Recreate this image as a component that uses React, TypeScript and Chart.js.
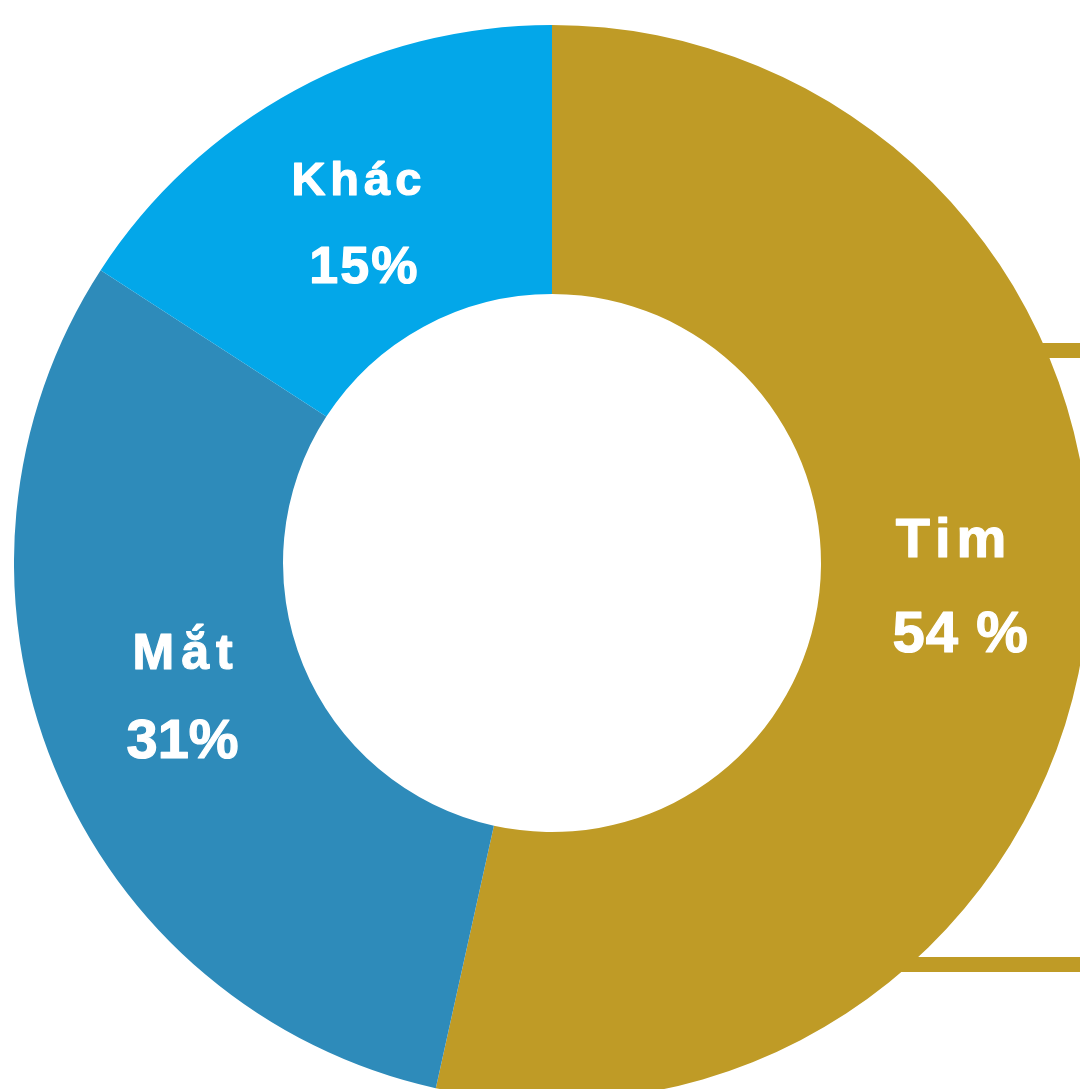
import React, { useEffect, useRef } from "react";
import { Chart, registerables } from "chart.js";

Chart.register(...registerables);

const categories = ["Tim", "Mắt", "Khác"];
const values = [54, 31, 16];
const percentLabels = ["54 %", "31%", "15%"];
const colors = ["#BF9B26", "#2E8BBA", "#03A7E9"];

// label styling (size px, letter spacing px) and offsets from the arc's centroid
const nameSizes = [56, 50, 47];
const nameSpacing = [6, 7, 5];
const pctSizes = [58, 56, 52];
const pctSpacing = [1, 0, 2];
const nameOffsets = [[-2, -50], [4, -47], [-3, -13]];
const pctOffsets = [[7, 45], [4, 42], [4, 75]];

const labelPlugin = {
  id: "sliceLabels",
  beforeDatasetsDraw(chart: any) {
    const meta = chart.getDatasetMeta(0);
    const arc = meta.data[0];
    if (!arc) return;
    const { x, y, outerRadius } = arc.getProps(["x", "y", "outerRadius"], true);
    const ctx = chart.ctx;
    ctx.save();
    ctx.fillStyle = colors[0];
    const bars = [[-220, -205], [394, 409]];
    bars.forEach(([a, b]) => {
      const dy = (a + b) / 2;
      const startX = x + Math.sqrt(Math.max(0, outerRadius * outerRadius - dy * dy)) - 20;
      ctx.fillRect(startX, y + a, chart.width - startX + 20, b - a);
    });
    ctx.restore();
  },
  afterDatasetsDraw(chart: any) {
    const meta = chart.getDatasetMeta(0);
    const ctx = chart.ctx;
    meta.data.forEach((el: any, i: number) => {
      const p = el.tooltipPosition();
      ctx.save();
      ctx.fillStyle = "#ffffff";
      ctx.strokeStyle = "#ffffff";
      ctx.lineWidth = 1.2;
      ctx.lineJoin = "round";
      ctx.textAlign = "center";
      ctx.textBaseline = "alphabetic";
      ctx.font = `bold ${nameSizes[i]}px "Liberation Sans", Arial, sans-serif`;
      (ctx as any).letterSpacing = `${nameSpacing[i]}px`;
      const nx = p.x + nameOffsets[i][0] + nameSpacing[i] / 2;
      const ny = p.y + nameOffsets[i][1];
      ctx.fillText(categories[i], nx, ny);
      ctx.strokeText(categories[i], nx, ny);
      ctx.font = `bold ${pctSizes[i]}px "Liberation Sans", Arial, sans-serif`;
      (ctx as any).letterSpacing = `${pctSpacing[i]}px`;
      const px = p.x + pctOffsets[i][0] + pctSpacing[i] / 2;
      const py = p.y + pctOffsets[i][1];
      ctx.fillText(percentLabels[i], px, py);
      ctx.strokeText(percentLabels[i], px, py);
      ctx.restore();
    });
  },
};

export default function App() {
  const ref = useRef<HTMLCanvasElement | null>(null);
  useEffect(() => {
    if (!ref.current) return;
    const chart = new Chart(ref.current, {
      type: "doughnut",
      data: {
        labels: categories,
        datasets: [
          {
            data: values,
            backgroundColor: colors,
            borderWidth: 0,
          },
        ],
      },
      options: {
        animation: false,
        responsive: false,
        cutout: "50%",
        layout: { padding: 0 },
        plugins: {
          legend: { display: false },
          tooltip: { enabled: false },
        },
      },
      plugins: [labelPlugin],
    });
    return () => chart.destroy();
  }, []);
  return (
    <div style={{ position: "fixed", left: 14, top: 25, width: 1076, height: 1076 }}>
      <canvas ref={ref} width={1076} height={1076} style={{ width: 1076, height: 1076 }} />
    </div>
  );
}
